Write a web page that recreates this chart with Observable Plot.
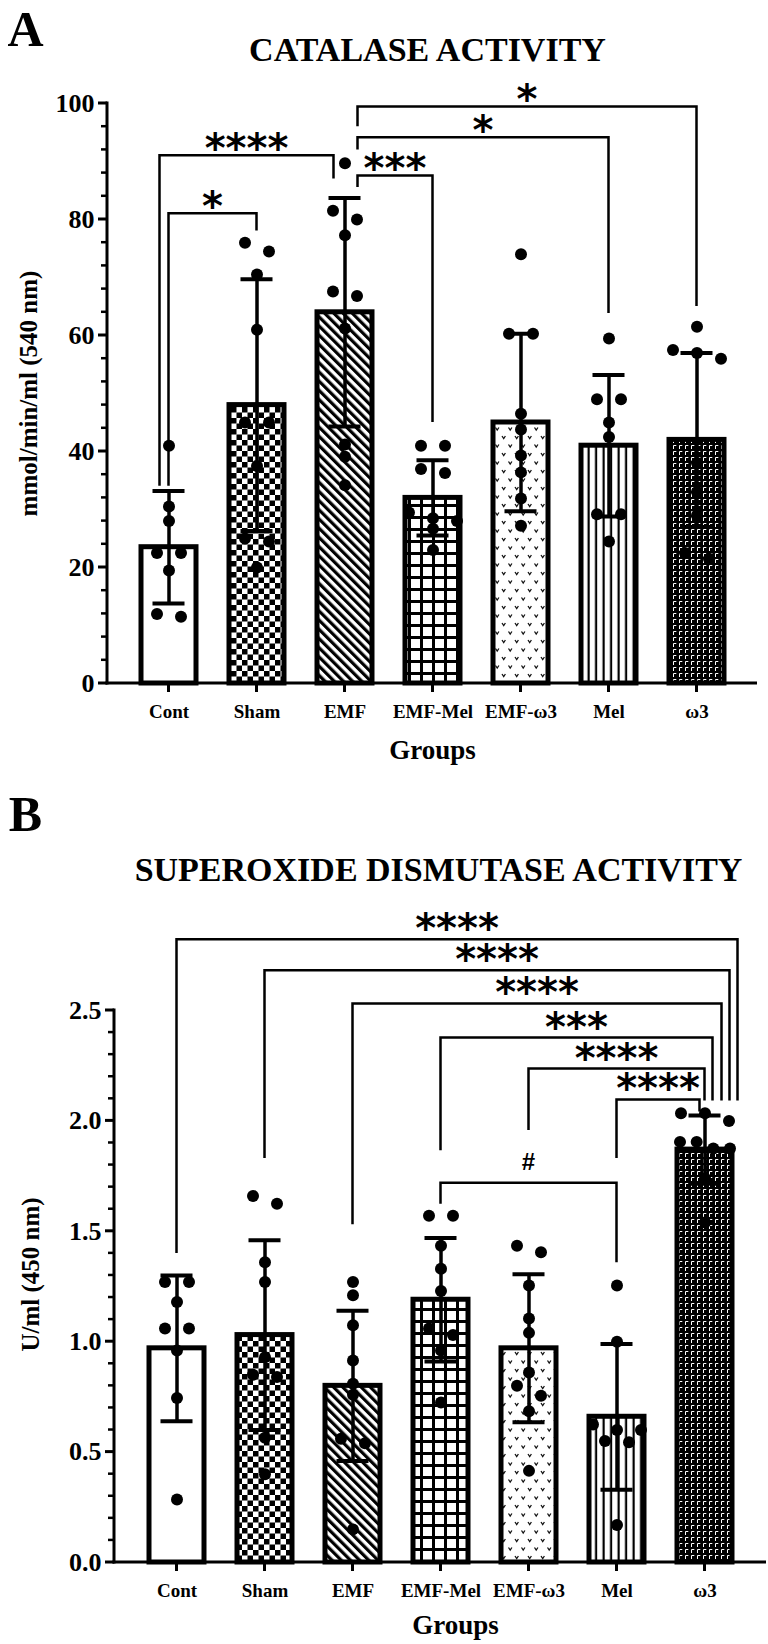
<!DOCTYPE html>
<html>
<head>
<meta charset="utf-8">
<script src="https://cdn.jsdelivr.net/npm/d3@7"></script>
<script src="https://cdn.jsdelivr.net/npm/@observablehq/plot@0.6"></script>
<style>
html, body { margin: 0; padding: 0; background: #fff; }
#chart { width: 768px; height: 1644px; position: relative; overflow: hidden; background: #fff; }
#chart svg { display: block; overflow: visible; position: absolute; left: 0; }
#chart [aria-label^="y-axis"] text { font-size: 26px; }
#chart [aria-label^="x-axis"] text { font-size: 19px; }
</style>
</head>
<body>
<div id="chart"></div>
<script>
// ---------------- data ----------------
const groups = ["Cont", "Sham", "EMF", "EMF-Mel", "EMF-ω3", "Mel", "ω3"];

// Panel A: catalase activity
const catMean = [23.5, 48, 64, 32, 45, 41, 42];
const catSD = [9.7, 21.7, 19.7, 6.5, 15.3, 12.2, 15];
const catPoints = [
  [41, 30.5, 28, 22.5, 22.5, 19.5, 12, 11.5],
  [76, 74.5, 70.5, 61, 45, 45, 37.5, 25, 24.5, 20],
  [89.7, 81.5, 80, 77.3, 67.6, 66.8, 61.2, 41.2, 39.1, 34.2],
  [41, 41, 37, 36.3, 29.5, 28.5, 28, 26.7, 23],
  [74, 60.3, 60.3, 46.5, 43.8, 39.3, 36.4, 31.9, 27.2],
  [59.5, 49, 49, 45, 42.5, 29.2, 29.2, 24.5],
  [61.5, 57.5, 57, 56, 38, 33, 29, 22.5, 21.5]
];
const catTicks = [0, 20, 40, 60, 80, 100];
const catBrackets = [
  {from: "Cont", to: "Sham", y: 81, fromEnd: 34, toEnd: 78, label: "*"},
  {from: "Cont", to: "EMF", y: 91, fromEnd: 34, toEnd: 87, label: "****"},
  {from: "EMF", to: "EMF-Mel", y: 87.5, fromEnd: 85.5, toEnd: 45, label: "***"},
  {from: "EMF", to: "Mel", y: 94.1, fromEnd: 92, toEnd: 63.8, label: "*"},
  {from: "EMF", to: "ω3", y: 99.4, fromEnd: 96, toEnd: 65, label: "*"}
];

// Panel B: superoxide dismutase activity
const sodMean = [0.97, 1.03, 0.80, 1.19, 0.97, 0.66, 1.87];
const sodSD = [0.33, 0.43, 0.34, 0.28, 0.335, 0.33, 0.155];
const sodPoints = [
  [1.27, 1.27, 1.18, 1.06, 1.06, 0.96, 0.745, 0.285],
  [1.66, 1.625, 1.36, 1.27, 0.93, 0.85, 0.84, 0.565, 0.40],
  [1.27, 1.21, 1.075, 0.915, 0.81, 0.76, 0.56, 0.54, 0.15],
  [1.57, 1.57, 1.435, 1.33, 1.23, 1.06, 1.03, 0.96, 0.725],
  [1.435, 1.405, 1.255, 1.105, 1.04, 0.86, 0.80, 0.755, 0.685, 0.415],
  [1.255, 1.0, 0.625, 0.60, 0.60, 0.55, 0.545, 0.17],
  [2.035, 2.035, 2.0, 1.905, 1.905, 1.875, 1.875, 1.74, 1.54]
];
const sodTicks = [0, 0.5, 1.0, 1.5, 2.0, 2.5];
const sodBrackets = [
  {from: "Cont", to: "ω3", y: 2.82, fromEnd: 1.40, toEnd: 2.09, label: "****"},
  {from: "Sham", to: "ω3", y: 2.68, fromEnd: 1.83, toEnd: 2.09, label: "****"},
  {from: "EMF", to: "ω3", y: 2.53, fromEnd: 1.53, toEnd: 2.09, label: "****"},
  {from: "EMF-Mel", to: "ω3", y: 2.375, fromEnd: 1.865, toEnd: 2.09, label: "***"},
  {from: "EMF-ω3", to: "ω3", y: 2.235, fromEnd: 1.957, toEnd: 2.09, label: "****"},
  {from: "Mel", to: "ω3", y: 2.095, fromEnd: 1.83, toEnd: 2.04, label: "****"},
  {from: "EMF-Mel", to: "Mel", y: 1.718, fromEnd: 1.623, toEnd: 1.357, label: "#"}
];

// ---------------- styling helpers ----------------
const SERIF = "'Liberation Serif', 'Times New Roman', serif";

function patternDefs(p) {
  return () => {
    const g = d3.create("svg:g");
    const defs = g.append("defs");
    const pat = (id, w, h, tr) => {
      const el = defs.append("pattern").attr("id", `${p}-${id}`)
        .attr("patternUnits", "userSpaceOnUse").attr("width", w).attr("height", h);
      if (tr) el.attr("patternTransform", tr);
      el.append("rect").attr("width", w).attr("height", h).attr("fill", "white");
      return el;
    };
    pat(0, 10, 10);
    let s = pat(1, 11, 11);
    s.append("rect").attr("width", 5.5).attr("height", 5.5).attr("fill", "black");
    s.append("rect").attr("x", 5.5).attr("y", 5.5).attr("width", 5.5).attr("height", 5.5).attr("fill", "black");
    s = pat(2, 6.5, 10, "rotate(-45)");
    s.append("rect").attr("width", 3.2).attr("height", 10).attr("fill", "black");
    s = pat(3, 12, 12);
    s.append("rect").attr("width", 3).attr("height", 12).attr("fill", "black");
    s.append("rect").attr("width", 12).attr("height", 3).attr("fill", "black");
    s = pat(4, 13, 17);
    s.append("path").attr("d", "M1.5,2.5 L3.2,5 L4.9,2.5 M8,11 L9.7,13.5 L11.4,11")
      .attr("fill", "none").attr("stroke", "#111").attr("stroke-width", 1.3);
    s = pat(5, 7.5, 10);
    s.append("rect").attr("x", 2.5).attr("width", 2.2).attr("height", 10).attr("fill", "black");
    s = pat(6, 6, 6);
    s.select("rect").attr("fill", "black");
    s.append("path").attr("d", "M1.5,5 V1.5 H4.3").attr("fill", "none").attr("stroke", "white").attr("stroke-width", 1);
    return g.node();
  };
}

// horizontal spread of points that would overlap (Prism-like scatter)
function jitter(values, ppu, r) {
  const idx = values.map((v, i) => i).sort((a, b) => values[b] - values[a]);
  const off = new Array(values.length).fill(0);
  let cluster = [];
  const flush = () => {
    const k = cluster.length;
    if (k > 1) {
      const span = Math.min(24 * (k - 1), 50);
      const step = span / (k - 1);
      cluster.forEach((i, j) => off[i] = (j - (k - 1) / 2) * step);
    }
    cluster = [];
  };
  for (const i of idx) {
    if (cluster.length && (values[cluster[0]] - values[i]) * ppu >= 2 * r - 1) flush();
    cluster.push(i);
  }
  flush();
  return off;
}

function axisDecor(yMax, minorStep, majorStep) {
  return (index, scales, values, dims) => {
    const {x, y} = scales;
    const bw = typeof x.bandwidth === "function" ? x.bandwidth() : (x.bandwidth || 0);
    const left = dims.marginLeft, right = dims.width - dims.marginRight;
    const g = d3.create("svg:g").attr("stroke", "black").attr("fill", "none");
    const y0 = y(0);
    g.append("line").attr("x1", left).attr("x2", left).attr("y1", y0 + 1.5).attr("y2", y(yMax) - 1.5).attr("stroke-width", 3);
    g.append("line").attr("x1", left - 1.5).attr("x2", right).attr("y1", y0).attr("y2", y0).attr("stroke-width", 3);
    const n = Math.round(yMax / minorStep);
    for (let i = 0; i <= n; i++) {
      const v = i * minorStep;
      const major = Math.abs(v / majorStep - Math.round(v / majorStep)) < 1e-6;
      g.append("line").attr("x1", left).attr("x2", left - (major ? 9 : 6))
        .attr("y1", y(v)).attr("y2", y(v)).attr("stroke-width", major ? 3 : 2.5);
    }
    for (const k of x.domain()) {
      const cx = x(k) + bw / 2;
      g.append("line").attr("x1", cx).attr("x2", cx).attr("y1", y0).attr("y2", y0 + 9).attr("stroke-width", 3);
    }
    return g.node();
  };
}

function bracketMark(list, shifts, lift, starSize) {
  return (index, scales) => {
    const {x, y} = scales;
    const bw = typeof x.bandwidth === "function" ? x.bandwidth() : (x.bandwidth || 0);
    const cx = k => x(k) + bw / 2;
    const g = d3.create("svg:g");
    list.forEach((b, i) => {
      const [sa, sb] = shifts[i];
      const xa = cx(b.from) + sa, xb = cx(b.to) + sb;
      g.append("path")
        .attr("d", `M${xa},${y(b.fromEnd)}V${y(b.y)}H${xb}V${y(b.toEnd)}`)
        .attr("fill", "none").attr("stroke", "black").attr("stroke-width", 2.5);
      const mid = (xa + xb) / 2;
      const ly = y(b.y + lift);
      if (b.label === "#") {
        g.append("text").attr("x", mid).attr("y", ly + 0.35 * 24)
          .attr("text-anchor", "middle").attr("font-family", "'Liberation Sans', Arial, sans-serif")
          .attr("font-size", 24).attr("fill", "black").text(b.label);
      } else {
        g.append("text").attr("x", mid).attr("y", ly + 0.6 * starSize)
          .attr("text-anchor", "middle").attr("font-family", "'DejaVu Sans', sans-serif")
          .attr("font-weight", "bold").attr("font-size", starSize).attr("fill", "black").text(b.label);
      }
    });
    return g.node();
  };
}

function panel(cfg) {
  const {prefix, means, sds, points, ticks, yMax, minorStep, majorStep, fmt,
         height, marginTop, marginBottom, marginLeft, marginRight,
         brackets, shifts, lift, title, letter, ylabel, titleDx, titleDy, letterDx, letterDy,
         ylabelDx, ylabelDy, groupsDx, groupsDy} = cfg;
  const rows = groups.map((g, i) => ({group: g, mean: means[i], sd: sds[i], fill: `url(#${prefix}-${i})`}));
  const ppu = (height - marginTop - marginBottom) / yMax;
  const dots = [];
  points.forEach((vals, i) => {
    const off = jitter(vals, ppu, 6);
    vals.forEach((v, j) => dots.push({group: groups[i], value: v, off: off[j]}));
  });
  const offsets = Array.from(new Set(dots.map(d => d.off)));
  const txt = {fontWeight: "bold", fontFamily: SERIF, fill: "black", textAnchor: "middle", lineAnchor: "middle"};
  return Plot.plot({
    width: 768, height, marginTop, marginBottom, marginLeft, marginRight,
    style: {fontFamily: SERIF, fontWeight: "bold", fontSize: "20px", color: "black", background: "white", overflow: "visible"},
    x: {domain: groups, paddingInner: 0.375, paddingOuter: 0.368, tickSize: 0, tickPadding: 21, label: null},
    y: {domain: [0, yMax], ticks, tickFormat: fmt, tickSize: 0, tickPadding: 13, label: null},
    color: {type: "identity"},
    marks: [
      patternDefs(prefix),
      Plot.barY(rows, {x: "group", y: "mean", fill: "fill", stroke: "black", strokeWidth: 5}),
      Plot.ruleX(rows, {x: "group", y1: d => d.mean - d.sd, y2: d => d.mean + d.sd, stroke: "black", strokeWidth: 3.5}),
      Plot.tickY(rows, {x: "group", y: d => d.mean + d.sd, stroke: "black", strokeWidth: 4, insetLeft: 11.5, insetRight: 11.5}),
      Plot.tickY(rows, {x: "group", y: d => d.mean - d.sd, stroke: "black", strokeWidth: 4, insetLeft: 11.5, insetRight: 11.5}),
      ...offsets.map(o => Plot.dot(dots.filter(d => d.off === o), {x: "group", y: "value", dx: o, r: 6, fill: "black", stroke: "none"})),
      bracketMark(brackets, shifts, lift, 40),
      axisDecor(yMax, minorStep, majorStep),
      Plot.text([title], {...txt, frameAnchor: "top", dx: titleDx, dy: titleDy, fontSize: 34}),
      Plot.text([letter], {...txt, frameAnchor: "top-left", dx: letterDx, dy: letterDy, fontSize: 50}),
      Plot.text([ylabel], {...txt, frameAnchor: "left", dx: ylabelDx, dy: ylabelDy, rotate: -90, fontSize: 25}),
      Plot.text(["Groups"], {...txt, frameAnchor: "bottom", dx: groupsDx, dy: groupsDy, fontSize: 27})
    ]
  });
}

const chart = document.getElementById("chart");

const svgA = panel({
  prefix: "pa", means: catMean, sds: catSD, points: catPoints, ticks: catTicks,
  yMax: 100, minorStep: 4, majorStep: 20, fmt: d3.format("d"),
  height: 780, marginTop: 103, marginBottom: 97, marginLeft: 107, marginRight: 11,
  brackets: catBrackets, shifts: [[0, 0], [-9, -11], [13, 0], [13, 0], [13, 0]], lift: 3,
  title: "CATALASE ACTIVITY", letter: "A", ylabel: "mmol/min/ml (540 nm)",
  titleDx: -5, titleDy: -53, letterDx: -82, letterDy: -74,
  ylabelDx: -79, ylabelDy: 0, groupsDx: 0, groupsDy: 67
});
svgA.style.top = "0px";
chart.appendChild(svgA);

const svgB = panel({
  prefix: "pb", means: sodMean, sds: sodSD, points: sodPoints, ticks: sodTicks,
  yMax: 2.5, minorStep: 0.1, majorStep: 0.5, fmt: d3.format(".1f"),
  height: 864, marginTop: 230, marginBottom: 82, marginLeft: 114, marginRight: 2,
  brackets: sodBrackets, shifts: [[0, 33], [0, 25], [0, 17], [0, 8], [0, 0], [0, -5], [0, 0]], lift: 0.095,
  title: "SUPEROXIDE DISMUTASE ACTIVITY", letter: "B", ylabel: "U/ml (450 nm)",
  titleDx: -2, titleDy: -140, letterDx: -89, letterDy: -196,
  ylabelDx: -84, ylabelDy: -12, groupsDx: 15, groupsDy: 63
});
svgB.style.top = "780px";
chart.appendChild(svgB);
</script>
</body>
</html>
